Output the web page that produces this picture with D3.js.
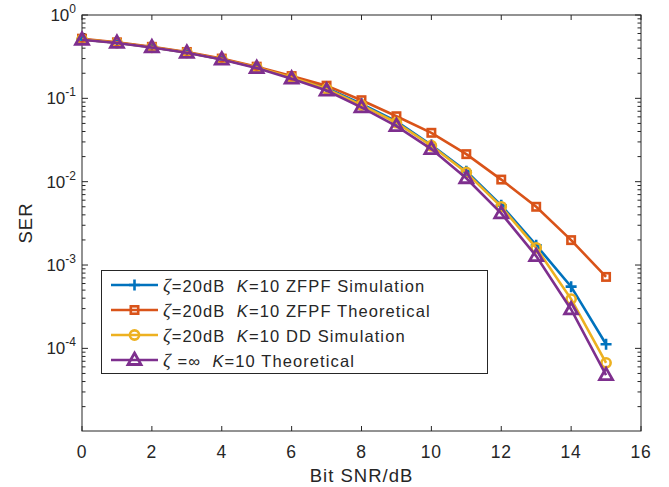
<!DOCTYPE html>
<html>
<head>
<meta charset="utf-8">
<script src="https://d3js.org/d3.v7.min.js"></script>
<style>
  body { margin: 0; background: #fff; }
  svg text { font-family: "Liberation Sans", Arial, sans-serif; fill: #262626; }
</style>
</head>
<body>
<svg id="chart" width="669" height="487"></svg>
<script>
// bit SNR in dB
var snr = [0, 1, 2, 3, 4, 5, 6, 7, 8, 9, 10, 11, 12, 13, 14, 15];

// SER curves
var zfpfSim = [0.51, 0.465, 0.41, 0.355, 0.295, 0.235, 0.18, 0.133, 0.086, 0.053, 0.0275, 0.0133, 0.0052, 0.00173, 0.00055, 0.000112];
var zfpfTheo = [0.52, 0.47, 0.415, 0.36, 0.30, 0.24, 0.185, 0.142, 0.095, 0.061, 0.0386, 0.0214, 0.0106, 0.0050, 0.00199, 0.00072];
var ddSim = [0.51, 0.465, 0.41, 0.355, 0.295, 0.235, 0.178, 0.13, 0.083, 0.051, 0.027, 0.0129, 0.0050, 0.00161, 0.00039, 0.000067];
var infTheo = [0.505, 0.462, 0.408, 0.352, 0.292, 0.231, 0.172, 0.124, 0.078, 0.0465, 0.0246, 0.011, 0.00416, 0.00128, 0.000293, 0.0000477];

var xTicks = [0, 2, 4, 6, 8, 10, 12, 14, 16];
var yTicks = [1, 0.1, 0.01, 0.001, 0.0001];
var yExps = [0, -1, -2, -3, -4];

var series = [
  {name: "ZFPF Simulation", pre: "=20dB", values: zfpfSim, color: "#0072BD", marker: "plus"},
  {name: "ZFPF Theoretical", pre: "=20dB", values: zfpfTheo, color: "#D95319", marker: "square"},
  {name: "DD Simulation", pre: "=20dB", values: ddSim, color: "#EDB120", marker: "circle"},
  {name: "Theoretical", pre: " =\u221E", values: infTheo, color: "#7E2F8E", marker: "triangle"}
];

var pLeft = 82, pRight = 641, pTop = 15, pBottom = 431;
var svg = d3.select("#chart");

var x = d3.scaleLinear().domain([0, 16]).range([pLeft, pRight]);
var y = d3.scaleLog().domain([1.02e-5, 1]).range([pBottom, pTop]);

var axisColor = "#262626";

// minor tick values for the log axis
var minor = [];
for (var e = -5; e < 0; e++) {
  for (var m = 2; m <= 9; m++) {
    var v = m * Math.pow(10, e);
    if (v >= y.domain()[0]) minor.push(v);
  }
}

var frame = svg.append("g");
frame.append("rect")
  .attr("x", pLeft).attr("y", pTop)
  .attr("width", pRight - pLeft).attr("height", pBottom - pTop)
  .attr("fill", "none").attr("stroke", axisColor).attr("stroke-width", 1);

// x ticks bottom and top
xTicks.forEach(function(t) {
  frame.append("line").attr("x1", x(t)).attr("x2", x(t)).attr("y1", pBottom).attr("y2", pBottom - 5)
    .attr("stroke", axisColor);
  frame.append("line").attr("x1", x(t)).attr("x2", x(t)).attr("y1", pTop).attr("y2", pTop + 5)
    .attr("stroke", axisColor);
  frame.append("text").attr("x", x(t)).attr("y", 458)
    .attr("text-anchor", "middle").style("font-size", "17.5px").style("letter-spacing", "0.8px").text(t);
});

// y ticks left and right
yTicks.forEach(function(t, i) {
  frame.append("line").attr("x1", pLeft).attr("x2", pLeft + 6).attr("y1", y(t)).attr("y2", y(t))
    .attr("stroke", axisColor);
  frame.append("line").attr("x1", pRight).attr("x2", pRight - 6).attr("y1", y(t)).attr("y2", y(t))
    .attr("stroke", axisColor);
  var lab = frame.append("text").attr("x", 76).attr("y", y(t) + 6)
    .attr("text-anchor", "end").style("font-size", "17px");
  lab.append("tspan").text("10");
  lab.append("tspan").attr("dy", -8).style("font-size", "12px").text(yExps[i]);
});
minor.forEach(function(t) {
  frame.append("line").attr("x1", pLeft).attr("x2", pLeft + 3.5).attr("y1", y(t)).attr("y2", y(t))
    .attr("stroke", axisColor);
  frame.append("line").attr("x1", pRight).attr("x2", pRight - 3.5).attr("y1", y(t)).attr("y2", y(t))
    .attr("stroke", axisColor);
});

// axis titles
svg.append("text").attr("x", (pLeft + pRight) / 2).attr("y", 482)
  .attr("text-anchor", "middle").style("font-size", "18.5px").style("letter-spacing", "1px").text("Bit SNR/dB");
svg.append("text").attr("transform", "translate(32," + ((pTop + pBottom) / 2) + ") rotate(-90)")
  .attr("text-anchor", "middle").style("font-size", "18.5px").style("letter-spacing", "1px").text("SER");

function drawMarker(g, kind, cx, cy, color) {
  if (kind == "plus") {
    g.append("path").attr("d", "M" + (cx - 5.5) + "," + cy + "H" + (cx + 5.5) + "M" + cx + "," + (cy - 5.5) + "V" + (cy + 5.5))
      .attr("stroke", color).attr("stroke-width", 2.6).attr("fill", "none");
  } else if (kind == "square") {
    g.append("rect").attr("x", cx - 3.7).attr("y", cy - 3.7).attr("width", 7.4).attr("height", 7.4)
      .attr("stroke", color).attr("stroke-width", 2.6).attr("fill", "none");
  } else if (kind == "circle") {
    g.append("circle").attr("cx", cx).attr("cy", cy).attr("r", 4.6)
      .attr("stroke", color).attr("stroke-width", 2.6).attr("fill", "none");
  } else {
    g.append("path").attr("d", "M" + cx + "," + (cy - 7) + "L" + (cx + 6.5) + "," + (cy + 4.5) + "L" + (cx - 6.5) + "," + (cy + 4.5) + "Z")
      .attr("stroke", color).attr("stroke-width", 2.8).attr("fill", "none").attr("stroke-linejoin", "miter");
  }
}

var line = d3.line()
  .x(function(d, i) { return x(snr[i]); })
  .y(function(d) { return y(d); });

var plot = svg.append("g");
series.forEach(function(s) {
  var g = plot.append("g");
  g.append("path").datum(s.values).attr("d", line)
    .attr("fill", "none").attr("stroke", s.color).attr("stroke-width", 2.6);
  s.values.forEach(function(v, i) {
    drawMarker(g, s.marker, x(snr[i]), y(v), s.color);
  });
});

// legend
var lg = svg.append("g");
lg.append("rect").attr("x", 101.5).attr("y", 270.5).attr("width", 386).attr("height", 103)
  .attr("fill", "#fff").attr("stroke", axisColor).attr("stroke-width", 1);
series.forEach(function(s, i) {
  var ly = 285 + i * 25;
  lg.append("line").attr("x1", 111).attr("x2", 158).attr("y1", ly).attr("y2", ly)
    .attr("stroke", s.color).attr("stroke-width", 2.6);
  drawMarker(lg, s.marker, 134.5, ly, s.color);
  var t = lg.append("text").attr("x", 163).attr("y", ly + 6.5)
    .style("font-size", "16.5px").style("letter-spacing", "1.1px").style("white-space", "pre");
  t.append("tspan").style("font-family", "'Liberation Serif', serif").style("font-style", "italic")
    .style("font-size", "19px").text("\u03B6");
  t.append("tspan").text(s.pre + "  ");
  t.append("tspan").style("font-style", "italic").text("K");
  t.append("tspan").text("=10 " + s.name);
});
</script>
</body>
</html>
